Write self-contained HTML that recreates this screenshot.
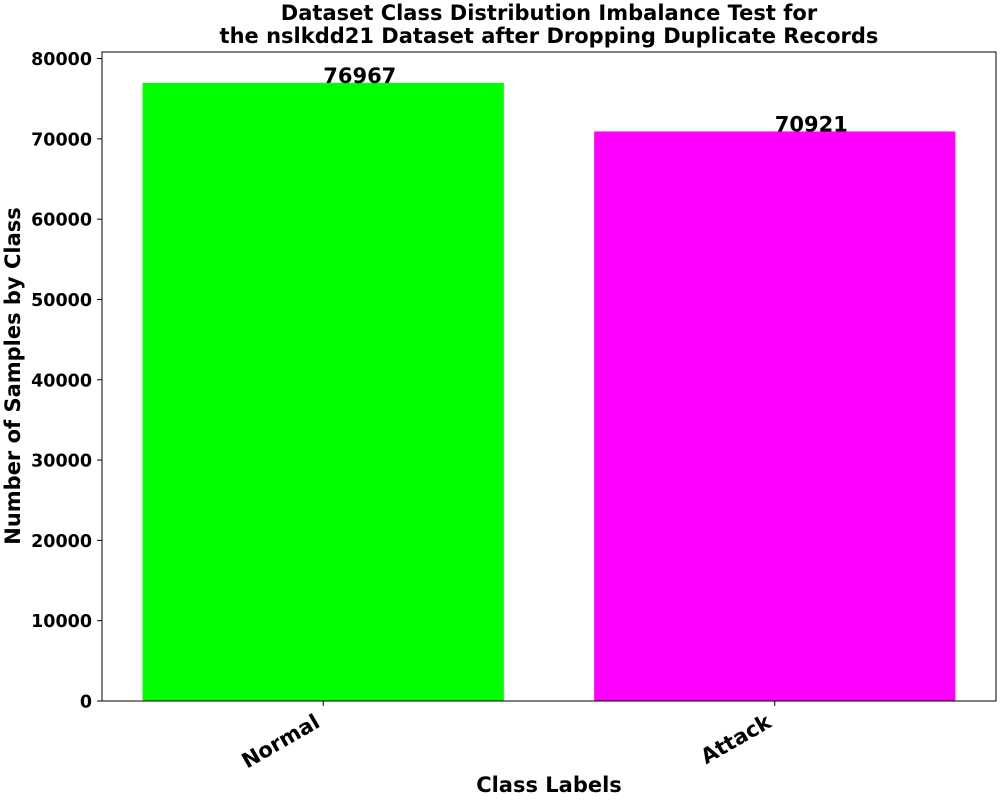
<!DOCTYPE html>
<html><head><meta charset="utf-8"><style>
body{margin:0;background:#fff;}
svg text{font-family:"DejaVu Sans","Liberation Sans",sans-serif;font-weight:bold;fill:#000;}
</style></head><body>
<svg id="chart" width="1000" height="800" xmlns="http://www.w3.org/2000/svg">
<text x="549" y="20" font-size="21" text-anchor="middle">Dataset Class Distribution Imbalance Test for</text>
<text x="549" y="43" font-size="21" text-anchor="middle">the nslkdd21 Dataset after Dropping Duplicate Records</text>
<g id="plot"></g>
<text x="549" y="792" font-size="21" text-anchor="middle">Class Labels</text>
<text transform="translate(20,376) rotate(-90)" font-size="21" text-anchor="middle">Number of Samples by Class</text>
</svg>
<script>
const categories=["Normal","Attack"];
const values=[76967,70921];
const colors=["#00ff00","#ff00ff"];
const yTicks=[0,10000,20000,30000,40000,50000,60000,70000,80000];
const L=102,R=996,T=52,B=701;
const xmin=-0.49,xmax=1.49,ymax=Math.max(...values)*1.05;
const xs=v=>L+(v-xmin)/(xmax-xmin)*(R-L);
const ys=v=>B-v/ymax*(B-T);
const NS="http://www.w3.org/2000/svg";
const g=document.getElementById('plot');
function mk(t,a){const e=document.createElementNS(NS,t);for(const k in a)e.setAttribute(k,a[k]);g.appendChild(e);return e;}
categories.forEach((c,i)=>{
  const x0=xs(i-0.4),x1=xs(i+0.4);
  const r=mk('rect',{x:x0,y:ys(values[i]),width:x1-x0,height:B-ys(values[i]),fill:colors[i]});
  
  
  const vt=mk('text',{x:xs(i),y:ys(values[i]),'font-size':21});
  vt.textContent=values[i];
  
  
  const tk=mk('line',{x1:xs(i),x2:xs(i),y1:B,y2:B+5,stroke:'#000','stroke-width':1});
  
  
  const lt=mk('text',{transform:`translate(${xs(i)-2},${B+25}) rotate(-30)`,'font-size':21,'text-anchor':'end'});
  lt.textContent=c;
  
  
});
yTicks.forEach(v=>{
  const y=ys(v);
  const tk=mk('line',{x1:L-5,x2:L,y1:y,y2:y,stroke:'#000','stroke-width':1});
  
  
  const t=mk('text',{x:L-10,y:y+6.5,'font-size':17.5,'text-anchor':'end'});
  t.textContent=v;
  
  
});
const fr=mk('rect',{x:L,y:T,width:R-L,height:B-T,fill:'none',stroke:'#000','stroke-width':1});


</script>
</body></html>
